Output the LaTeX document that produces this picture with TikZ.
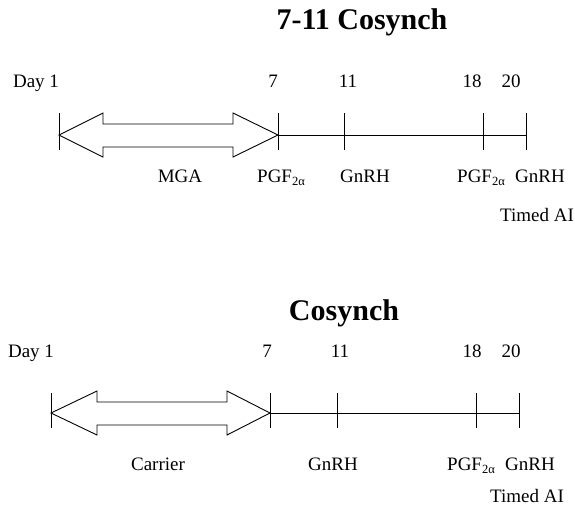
\documentclass[tikz,border=0pt]{standalone}
\usepackage{fontspec}
\setmainfont{Liberation Serif}
\newcommand{\PGFtwo}{PGF\raisebox{-0.45ex}{\fontsize{12.5}{13}\selectfont 2α}}
\tikzset{
  lbl/.style={anchor=base, inner sep=0pt, font=\fontsize{19}{21}\selectfont},
  ttl/.style={anchor=base, inner sep=0pt, font=\fontsize{30}{33}\selectfont\bfseries},
  axis/.style={line width=0.9pt},
  bigarrow/.style={line width=0.9pt, fill=white, line join=miter}
}
\begin{document}
\begin{tikzpicture}[x=1pt, y=-1pt]
\useasboundingbox (0,0) rectangle (575,507);

% 7-11 Cosynch
\node[ttl] (titleA) at (362,29) {7-11 Cosynch};
\coordinate (A1) at (59,135);
\coordinate (A7) at (278,135);
\coordinate (A20) at (526,135);
\draw[axis] (A7) -- (A20);
\foreach \x in {59,278,344,483,526}
  \draw[axis] (\x,113) -- (\x,150);
\draw[bigarrow] (A1) -- (103,113) -- (103,124) -- (233,124) -- (233,113)
  -- (A7) -- (233,157) -- (233,147) -- (103,147) -- (103,157) -- cycle;

\node[lbl] (dayA) at (36,87) {Day 1};
\node[lbl] (sevenA) at (273,87) {7};
\node[lbl] (elevenA) at (348,87) {11};
\node[lbl] (eighteenA) at (472,87) {18};
\node[lbl] (twentyA) at (511,87) {20};

\node[lbl] (mga) at (180,182) {MGA};
\node[lbl, anchor=base west] (pgfA1) at (257,182) {\PGFtwo};
\node[lbl, anchor=base west] (gnrhA1) at (340,182) {GnRH};
\node[lbl, anchor=base west] (pgfA2) at (457,182) {\PGFtwo};
\node[lbl, anchor=base west] (gnrhA2) at (515,182) {GnRH};
\node[lbl, anchor=base west] (aiA) at (500,221) {Timed AI};

% Cosynch
\node[ttl] (titleB) at (344,320) {Cosynch};
\coordinate (B1) at (51,413);
\coordinate (B7) at (270,413);
\coordinate (B20) at (519,413);
\draw[axis] (B7) -- (B20);
\foreach \x in {51,270,337,476,519}
  \draw[axis] (\x,393) -- (\x,428);
\draw[bigarrow] (B1) -- (97,391) -- (97,402) -- (227,402) -- (227,391)
  -- (B7) -- (227,435) -- (227,425) -- (97,425) -- (97,435) -- cycle;

\node[lbl] (dayB) at (31,357) {Day 1};
\node[lbl] (sevenB) at (267,357) {7};
\node[lbl] (elevenB) at (340,357) {11};
\node[lbl] (eighteenB) at (472,357) {18};
\node[lbl] (twentyB) at (511,357) {20};

\node[lbl] (carrier) at (158,470) {Carrier};
\node[lbl, anchor=base west] (gnrhB1) at (308,470) {GnRH};
\node[lbl, anchor=base west] (pgfB2) at (447,470) {\PGFtwo};
\node[lbl, anchor=base west] (gnrhB2) at (505,470) {GnRH};
\node[lbl, anchor=base west] (aiB) at (490,502) {Timed AI};
\end{tikzpicture}
\end{document}
